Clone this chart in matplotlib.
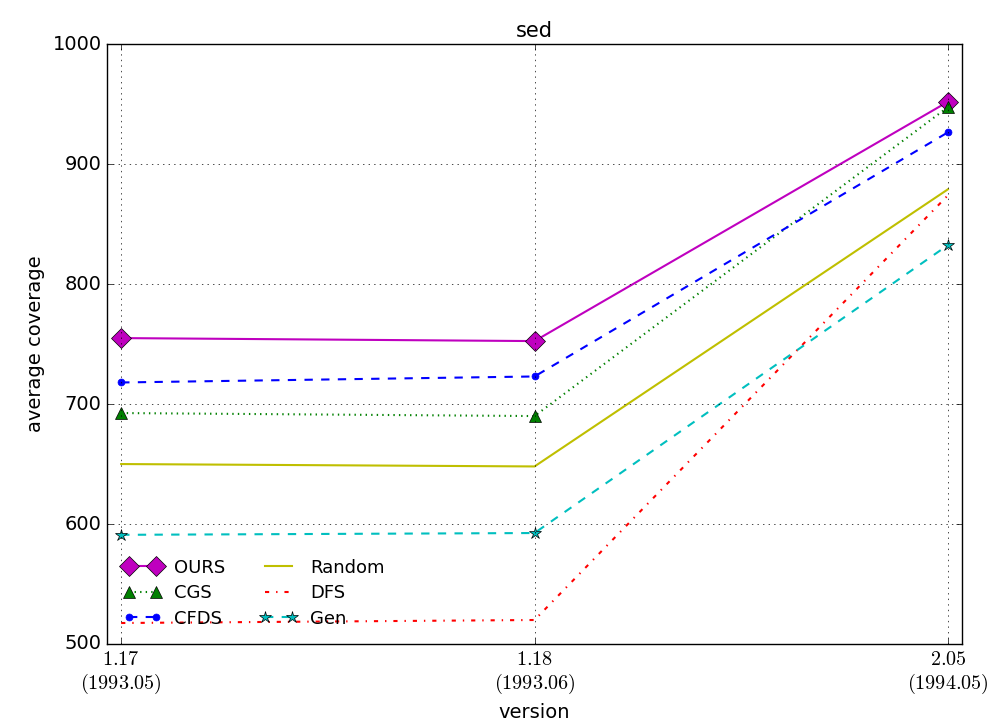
import numpy as np
import matplotlib
matplotlib.use('Agg')
import matplotlib.pyplot as plt

plt.style.use('classic')
plt.rcParams['mathtext.fontset'] = 'cm'

versions = ['1.17', '1.18', '2.05']
dates = ['1993.05', '1993.06', '1994.05']
ours = [755, 752.5, 952]
cgs = [692.5, 690, 947.5]
cfds = [718, 723, 926.5]
random = [650, 648, 879]
dfs = [517.5, 520, 874]
gen = [591, 592.5, 832.5]

x = np.arange(len(versions))

fig = plt.figure(figsize=(10.01, 7.24), dpi=100, facecolor='w')
ax = fig.add_axes([0.107, 0.1105, 0.854, 0.8285])

lw = 1.5
ax.plot(x, ours, 'm-', lw=lw, marker='D', markersize=10, label='OURS')
ax.plot(x, cgs, 'g:', lw=lw, marker='^', markersize=8, label='CGS')
ax.plot(x, cfds, 'b--', lw=lw, marker='o', markersize=5, markeredgecolor='b', label='CFDS')
ax.plot(x, random, 'y-', lw=lw, label='Random')
ax.plot(x, dfs, 'r-.', lw=lw, label='DFS')
ax.plot(x, gen, 'c--', lw=lw, marker='*', markersize=9, label='Gen')

ax.set_xlim(-0.034, 2.034)
ax.set_ylim(500, 1000)
ax.set_xticks(x)
ax.set_xticklabels(['$%s$\n$(%s)$' % (v, d) for v, d in zip(versions, dates)], fontsize=14.5)
ax.tick_params(axis='y', labelsize=14)
ax.grid(True)
ax.set_title('sed', fontsize=15)
ax.set_xlabel('version', fontsize=14)
ax.set_ylabel('average coverage', fontsize=14)
ax.legend(loc='lower left', ncol=2, frameon=False, numpoints=2, fontsize=13,
          handlelength=2.1, handletextpad=0.7, columnspacing=1.9,
          labelspacing=0.42, borderaxespad=0.5)

fig.savefig('out.png', dpi=100)
